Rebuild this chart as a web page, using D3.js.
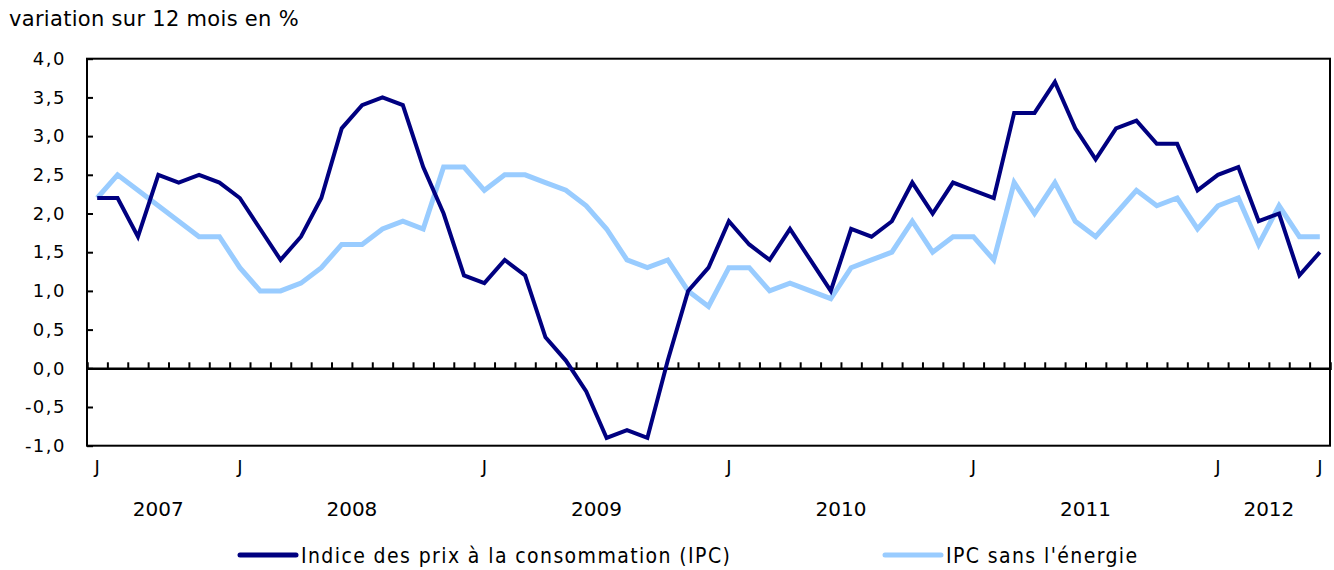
<!DOCTYPE html>
<html lang="fr">
<head>
    <meta charset="UTF-8">
    <title>IPC et IPC sans l'énergie</title>
    <script src="https://cdnjs.cloudflare.com/ajax/libs/d3/7.8.5/d3.min.js"></script>
    <style>
        body { margin: 0; background: #fff; }
        text { font-family: "DejaVu Sans", Verdana, sans-serif; fill: #000; }
        .legend text { font-family: "DejaVu Sans Condensed", "Liberation Sans Narrow", sans-serif; }
    </style>
</head>
<body>
    <div id="chart"></div>

    <script>
        // Mois : juin 2007 à juin 2012
        const months = d3.range(61);
        const monthLabels = ["J", "J", "J", "J", "J", "J", "J"];
        const monthLabelIdx = [0, 7, 19, 31, 43, 55, 60];
        const years = ["2007", "2008", "2009", "2010", "2011", "2012"];
        const yearStart = [0, 7, 19, 31, 43, 55];
        const yearEnd = [6, 18, 30, 42, 54, 60];

        const ipc = [2.2, 2.2, 1.7, 2.5, 2.4, 2.5, 2.4,
            2.2, 1.8, 1.4, 1.7, 2.2, 3.1, 3.4, 3.5, 3.4, 2.6, 2.0, 1.2,
            1.1, 1.4, 1.2, 0.4, 0.1, -0.3, -0.9, -0.8, -0.9, 0.1, 1.0, 1.3,
            1.9, 1.6, 1.4, 1.8, 1.4, 1.0, 1.8, 1.7, 1.9, 2.4, 2.0, 2.4,
            2.3, 2.2, 3.3, 3.3, 3.7, 3.1, 2.7, 3.1, 3.2, 2.9, 2.9, 2.3,
            2.5, 2.6, 1.9, 2.0, 1.2, 1.5];
        const ipcSansEnergie = [2.2, 2.5, 2.3, 2.1, 1.9, 1.7, 1.7,
            1.3, 1.0, 1.0, 1.1, 1.3, 1.6, 1.6, 1.8, 1.9, 1.8, 2.6, 2.6,
            2.3, 2.5, 2.5, 2.4, 2.3, 2.1, 1.8, 1.4, 1.3, 1.4, 1.0, 0.8,
            1.3, 1.3, 1.0, 1.1, 1.0, 0.9, 1.3, 1.4, 1.5, 1.9, 1.5, 1.7,
            1.7, 1.4, 2.4, 2.0, 2.4, 1.9, 1.7, 2.0, 2.3, 2.1, 2.2, 1.8,
            2.1, 2.2, 1.6, 2.1, 1.7, 1.7];
        const yTicks = [-1, -0.5, 0, 0.5, 1, 1.5, 2, 2.5, 3, 3.5, 4];

        const width = 1334, height = 570;
        const plot = {left: 87, right: 1330, top: 58.7, bottom: 445.7};

        const svg = d3.select("#chart").append("svg")
            .attr("width", width)
            .attr("height", height);

        const fr = d3.formatLocale({decimal: ",", thousands: " ", grouping: [3], currency: ["", " $"], minus: "-"});
        const fmt = fr.format(".1f");

        const x = d3.scaleBand()
            .domain(months)
            .range([plot.left, plot.right])
            .padding(0);
        const cx = i => x(i) + x.bandwidth() / 2;

        // échelle des bornes de mois pour les graduations
        const xEdge = d3.scaleLinear()
            .domain([0, months.length])
            .range([plot.left, plot.right]);

        const y = d3.scaleLinear()
            .domain([-1, 4])
            .range([plot.bottom, plot.top]);

        // Titre de l'axe
        svg.append("text")
            .attr("x", 9)
            .attr("y", 26)
            .style("font-size", "21px")
            .style("letter-spacing", "0.3px")
            .text("variation sur 12 mois en %");

        // Axe Y (graduations vers l'intérieur)
        const yAxis = svg.append("g")
            .attr("transform", `translate(${plot.left},0)`)
            .call(d3.axisLeft(y).tickValues(yTicks).tickSizeInner(-6).tickSizeOuter(0).tickPadding(21).tickFormat(fmt));
        yAxis.select(".domain").remove();
        yAxis.selectAll("line").attr("stroke", "#000").attr("stroke-width", 2);
        yAxis.selectAll("text")
            .style("font-size", "18px")
            .style("letter-spacing", "1.5px")
            .attr("font-family", null);

        // Cadre
        svg.append("rect")
            .attr("x", plot.left)
            .attr("y", plot.top)
            .attr("width", plot.right - plot.left)
            .attr("height", plot.bottom - plot.top)
            .attr("fill", "none")
            .attr("stroke", "#000")
            .attr("stroke-width", 2);

        // Axe X sur la ligne zéro
        const xAxis = svg.append("g")
            .attr("transform", `translate(0,${y(0)})`)
            .call(d3.axisTop(xEdge).tickValues(d3.range(1, months.length)).tickSize(6).tickFormat(""));
        xAxis.select(".domain").attr("stroke", "#000").attr("stroke-width", 2.5);
        xAxis.selectAll("line").attr("stroke", "#000").attr("stroke-width", 2);

        // Étiquettes des mois
        svg.append("g").selectAll("text")
            .data(monthLabelIdx)
            .join("text")
            .attr("x", d => cx(d))
            .attr("y", 473)
            .attr("text-anchor", "middle")
            .style("font-size", "18px")
            .text((d, i) => monthLabels[i]);

        // Étiquettes des années
        svg.append("g").selectAll("text")
            .data(years)
            .join("text")
            .attr("x", (d, i) => (cx(yearStart[i]) + cx(yearEnd[i])) / 2)
            .attr("y", 516)
            .attr("text-anchor", "middle")
            .style("font-size", "20px")
            .text(d => d);

        const line = d3.line()
            .x((d, i) => cx(i))
            .y(d => y(d));

        svg.append("path")
            .datum(ipcSansEnergie)
            .attr("fill", "none")
            .attr("stroke", "#99ccff")
            .attr("stroke-width", 5)
            .attr("stroke-linejoin", "miter")
            .attr("d", line);

        svg.append("path")
            .datum(ipc)
            .attr("fill", "none")
            .attr("stroke", "#000080")
            .attr("stroke-width", 4)
            .attr("stroke-linejoin", "miter")
            .attr("d", line);

        // Légende
        const legendItems = [
            {label: "Indice des prix à la consommation (IPC)", color: "#000080", x: 240},
            {label: "IPC sans l'énergie", color: "#99ccff", x: 885}
        ];
        const legend = svg.append("g").attr("class", "legend");
        const item = legend.selectAll("g")
            .data(legendItems)
            .join("g")
            .attr("transform", d => `translate(${d.x},555)`);
        item.append("line")
            .attr("x1", 0).attr("x2", 56)
            .attr("stroke", d => d.color)
            .attr("stroke-width", 5)
            .attr("stroke-linecap", "round");
        item.append("text")
            .attr("x", 61)
            .attr("y", 8)
            .style("font-size", "21px")
            .style("letter-spacing", "1.4px")
            .text(d => d.label);
    </script>
</body>
</html>
